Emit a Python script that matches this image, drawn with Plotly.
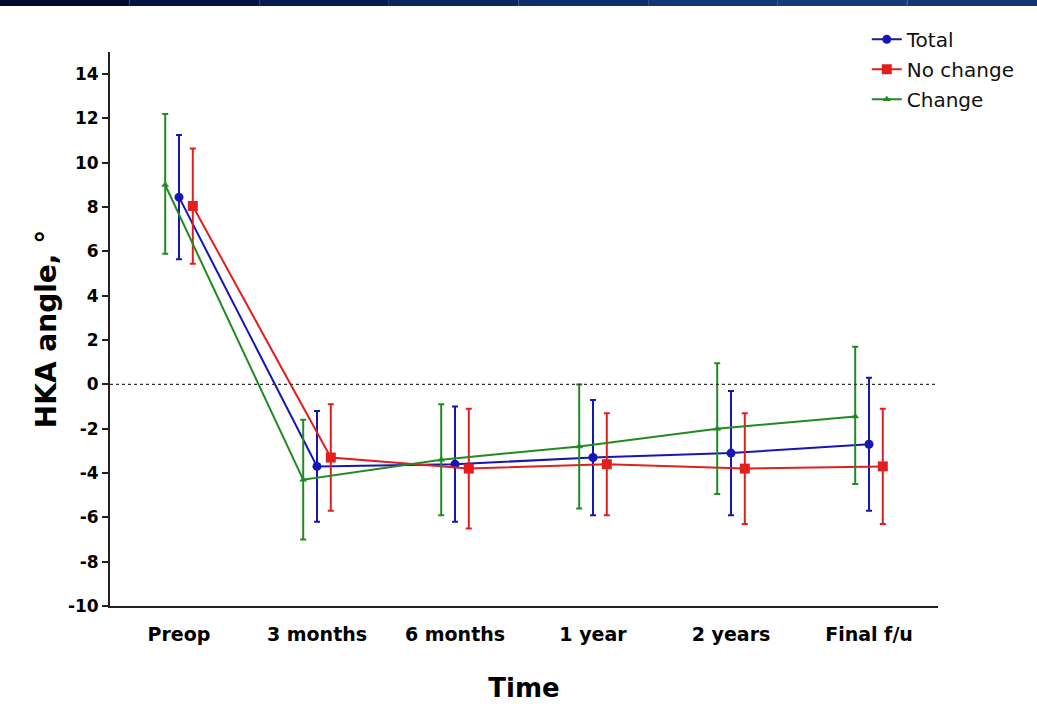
import plotly.graph_objects as go

categories = ["Preop", "3 months", "6 months", "1 year", "2 years", "Final f/u"]

total_mean = [8.45, -3.7, -3.6, -3.3, -3.1, -2.7]
total_up = [2.8, 2.5, 2.6, 2.6, 2.8, 3.0]
total_down = [2.8, 2.5, 2.6, 2.6, 2.8, 3.0]

nochange_mean = [8.05, -3.3, -3.8, -3.6, -3.8, -3.7]
nochange_up = [2.6, 2.4, 2.7, 2.3, 2.5, 2.6]
nochange_down = [2.6, 2.4, 2.7, 2.3, 2.5, 2.6]

change_mean = [9.0, -4.3, -3.4, -2.8, -2.0, -1.45]
change_up = [3.2, 2.7, 2.5, 2.8, 2.95, 3.15]
change_down = [3.1, 2.7, 2.5, 2.8, 2.95, 3.05]

y_ticks = list(range(-10, 15, 2))
y_ticktext = [str(v).replace("−", "-") for v in y_ticks]

idx = list(range(len(categories)))
series = [
    ("Total", total_mean, total_up, total_down, "#1616b4", "circle", 9, 0.0),
    ("No change", nochange_mean, nochange_up, nochange_down, "#e21f1f", "square", 10, 0.1),
    ("Change", change_mean, change_up, change_down, "#238a23", "triangle-up", 7, -0.1),
]

fig = go.Figure()
for name, m, up, dn, col, sym, sz, off in series:
    fig.add_trace(go.Scatter(
        x=[i + off for i in idx], y=m, name=name, mode="lines+markers",
        legendgroup=name,
        line=dict(color=col, width=2),
        marker=dict(symbol=sym, size=sz, color=col),
        error_y=dict(type="data", array=up, arrayminus=dn, symmetric=False,
                     color=col, thickness=2, width=3),
    ))

# header bar gradient
bar_cols = ["#020b2e", "#041440", "#071d52", "#0a2660", "#0e2f6c", "#123676", "#16397a", "#123474"]
n = len(bar_cols)
W, H, L, T = 828.0, 554.0, 110.0, 52.0
for k, c in enumerate(bar_cols):
    fig.add_shape(type="rect", xref="paper", yref="paper",
                  x0=(-L + k * 1037 / n) / W, x1=(-L + (k + 1) * 1037 / n) / W,
                  y0=1 + (T - 6) / H, y1=1 + T / H, line=dict(width=0),
                  fillcolor=c, layer="above")

fig.add_shape(type="line", xref="paper", yref="y", x0=0, x1=1, y0=0, y1=0,
              line=dict(color="#333333", width=1.2, dash="dot"))

fig.update_layout(
    width=1037, height=721,
    margin=dict(l=110, r=99, t=52, b=115),
    plot_bgcolor="white", paper_bgcolor="white",
    font=dict(family="DejaVu Sans, sans-serif", color="black"),
    showlegend=True,
    legend=dict(x=0.914, y=1.058, xanchor="left", yanchor="top",
                font=dict(size=20, color="#111111"), bgcolor="rgba(0,0,0,0)",
                tracegroupgap=1),
)
fig.update_xaxes(
    range=[-0.5, 5.5], tickmode="array", tickvals=idx, ticktext=categories,
    showline=True, linecolor="#222222", linewidth=2, ticks="", showgrid=False,
    zeroline=False, tickfont=dict(size=19, weight="bold"),
    ticklabelstandoff=10,
    title=dict(text="Time", font=dict(size=26, weight="bold"), standoff=35),
)
fig.update_yaxes(
    range=[-10, 15], tickmode="array", tickvals=y_ticks, ticktext=y_ticktext,
    showline=True, linecolor="#222222", linewidth=2, ticks="outside", ticklen=6,
    tickwidth=1.5, tickcolor="#222222", showgrid=False, zeroline=False,
    tickfont=dict(size=17, weight="bold"),
    title=dict(text="HKA angle, °", font=dict(size=28, weight="bold"), standoff=3),
)

fig.write_html("out.html", config={"displayModeBar": False},
               post_script="document.body.style.margin='0';document.body.style.overflow='hidden';")
